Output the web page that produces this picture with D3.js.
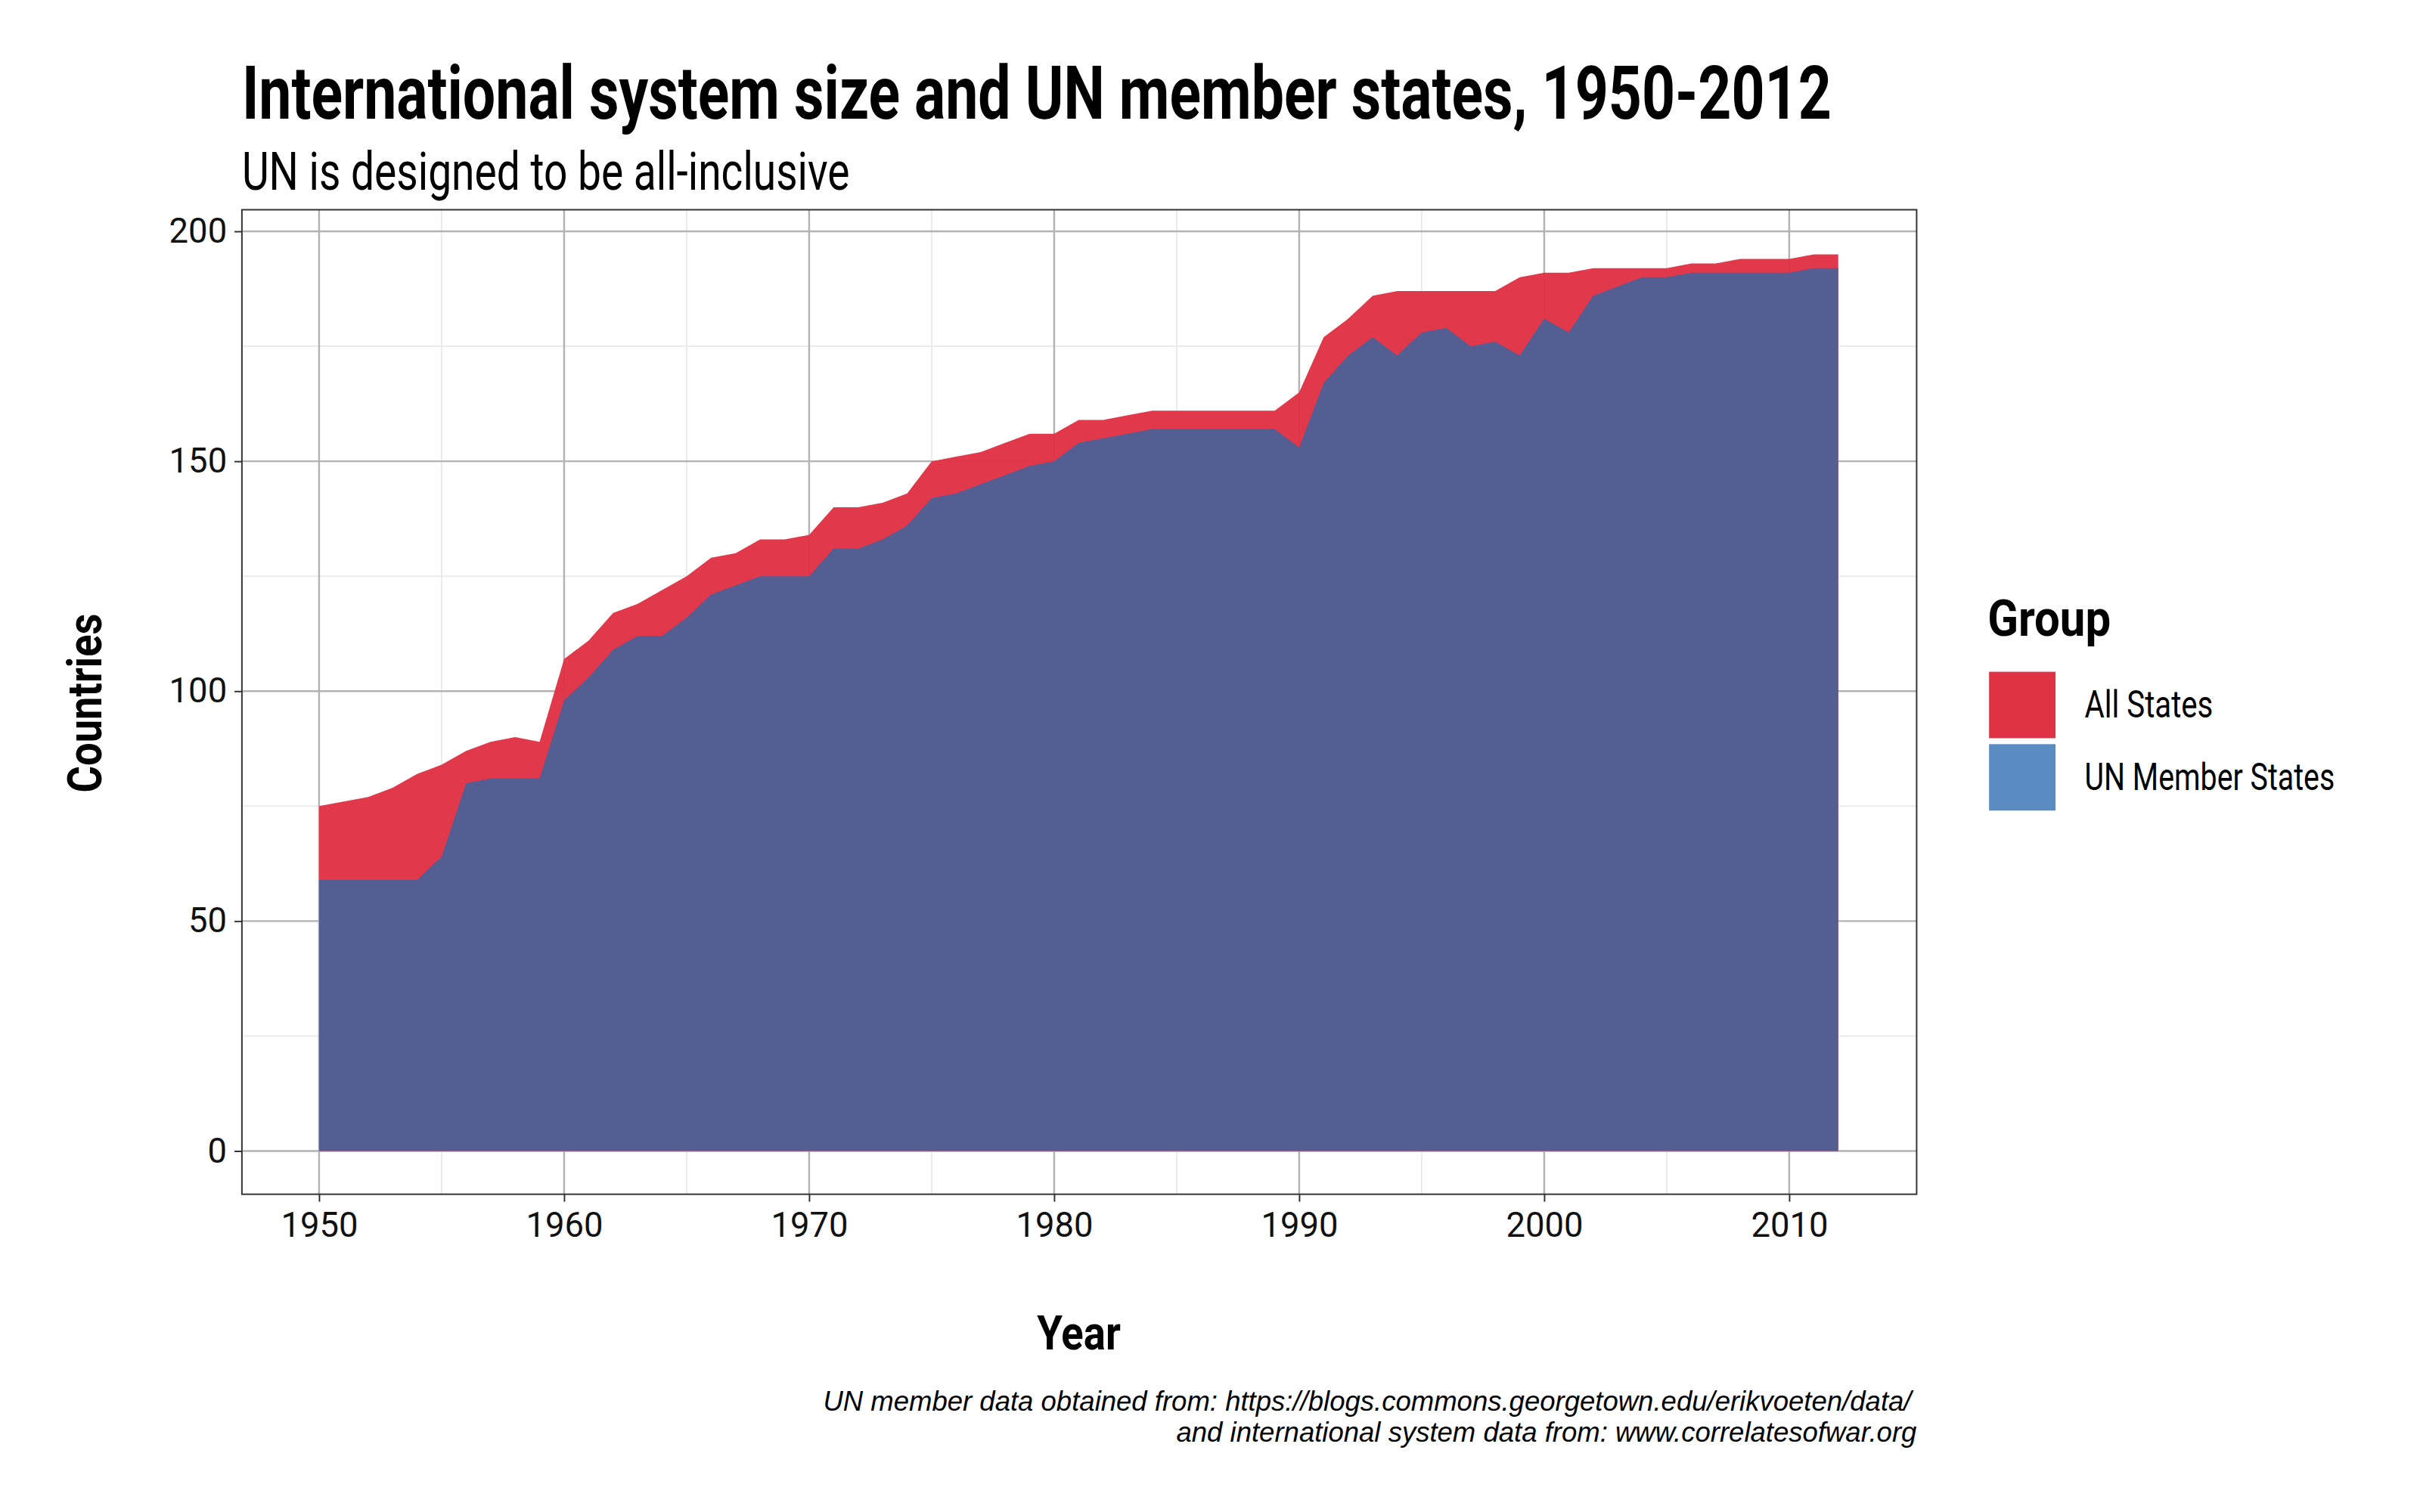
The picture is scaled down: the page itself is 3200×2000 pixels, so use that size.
<!DOCTYPE html>
<html><head><meta charset="utf-8">
<script src="https://cdn.jsdelivr.net/npm/d3@7"></script>
<style>body{margin:0;background:#fff}</style></head>
<body><svg id="c" width="3200" height="2000"></svg>
<script>
const years = d3.range(1950, 2013);
const allStates = [75,76,77,79,82,84,87,89,90,89,107,111,117,119,122,125,129,130,133,133,134,140,140,141,143,150,151,152,154,156,156,159,159,160,161,161,161,161,161,161,165,177,181,186,187,187,187,187,187,190,191,191,192,192,192,192,193,193,194,194,194,195,195];
const unMembers = [59,59,59,59,59,64,80,81,81,81,98,103,109,112,112,116,121,123,125,125,125,131,131,133,136,142,143,145,147,149,150,154,155,156,157,157,157,157,157,157,153,167,173,177,173,178,179,175,176,173,181,178,186,188,190,190,191,191,191,191,191,192,192];
const xTicks = [1950,1960,1970,1980,1990,2000,2010];
const yTicks = [0,50,100,150,200];
const groups = ["All States","UN Member States"];
const colors = ["#e03245","#5a8bc2"];
const font = "'Liberation Sans Narrow','Roboto','DejaVu Sans Condensed',sans-serif";

const svg = d3.select("#c").append("g").attr("transform","scale(0.9873)");
const L=324,R=2567,T=281,B=1600;
const x = d3.scaleLinear().domain([1946.85,2015.2]).range([L,R]);
const y = d3.scaleLinear().domain([-9.4,204.7]).range([B,T]);

const g = svg.append("g");
const xMinor = [1955,1965,1975,1985,1995,2005];
const yMinor = [25,75,125,175];
g.selectAll(".xm").data(xMinor).enter().append("line").attr("x1",d=>x(d)).attr("x2",d=>x(d)).attr("y1",T).attr("y2",B).attr("stroke","#ebebeb").attr("stroke-width",2);
g.selectAll(".ym").data(yMinor).enter().append("line").attr("y1",d=>y(d)).attr("y2",d=>y(d)).attr("x1",L).attr("x2",R).attr("stroke","#ebebeb").attr("stroke-width",2);
g.selectAll(".xg").data(xTicks).enter().append("line").attr("x1",d=>x(d)).attr("x2",d=>x(d)).attr("y1",T).attr("y2",B).attr("stroke","#b3b3b3").attr("stroke-width",2.5);
g.selectAll(".yg").data(yTicks).enter().append("line").attr("y1",d=>y(d)).attr("y2",d=>y(d)).attr("x1",L).attr("x2",R).attr("stroke","#b3b3b3").attr("stroke-width",2.5);

const data = years.map((yr,i)=>({yr,a:allStates[i],u:unMembers[i]}));
const area = k => d3.area().x(d=>x(d.yr)).y0(y(0)).y1(d=>y(d[k]));
svg.append("path").datum(data).attr("d",area("a")).attr("fill",colors[0]).attr("fill-opacity",0.97);
svg.append("path").datum(data).attr("d",area("u")).attr("fill","#515f95").attr("fill-opacity",0.98);

svg.append("rect").attr("x",L).attr("y",T).attr("width",R-L).attr("height",B-T).attr("fill","none").attr("stroke","#333").attr("stroke-width",2);

const xa = svg.append("g").attr("transform",`translate(0,${B})`).call(d3.axisBottom(x).tickValues(xTicks).tickFormat(d3.format("d")).tickSize(10).tickPadding(14));
const ya = svg.append("g").attr("transform",`translate(${L},0)`).call(d3.axisLeft(y).tickValues(yTicks).tickSize(10).tickPadding(10));
[xa,ya].forEach(a=>{a.select(".domain").remove();a.selectAll("line").attr("stroke","#333").attr("stroke-width",2);a.selectAll("text").attr("font-family",font).attr("font-size",46).attr("fill","#111");});

const txt=(s,xp,yp,size,opt={})=>{const t=svg.append("text").attr("x",xp).attr("y",yp).attr("font-family",opt.f||font).attr("font-size",size).attr("font-weight",opt.w||"normal").attr("fill","#000").attr("text-anchor",opt.a||"start").text(s);if(opt.len)t.attr("textLength",opt.len).attr("lengthAdjust","spacingAndGlyphs");if(opt.st)t.attr("font-style",opt.st);if(opt.tr)t.attr("transform",opt.tr);return t;};
txt("International system size and UN member states, 1950-2012",324,159,100,{w:"bold",len:2129});
txt("UN is designed to be all-inclusive",324,254,72,{len:814});
txt("Year",1445,1808,64,{w:"bold",a:"middle",len:112});
txt("Countries",0,0,64,{w:"bold",a:"middle",len:240,tr:"translate(136,942) rotate(-90)"});
txt("Group",2662,852,68,{w:"bold",len:165});
groups.forEach((gname,i)=>{
  svg.append("rect").attr("x",2664).attr("y",900+i*97).attr("width",89).attr("height",89).attr("fill",colors[i]);
  txt(gname,2792,961+i*97,50,{len:i?335:172});
});
txt("UN member data obtained from: https://blogs.commons.georgetown.edu/erikvoeten/data/",2560,1890,37,{a:"end",st:"italic",f:"'Liberation Sans',Arial,sans-serif"});
txt("and international system data from: www.correlatesofwar.org",2567,1932,37,{a:"end",st:"italic",f:"'Liberation Sans',Arial,sans-serif"});
</script></body></html>
